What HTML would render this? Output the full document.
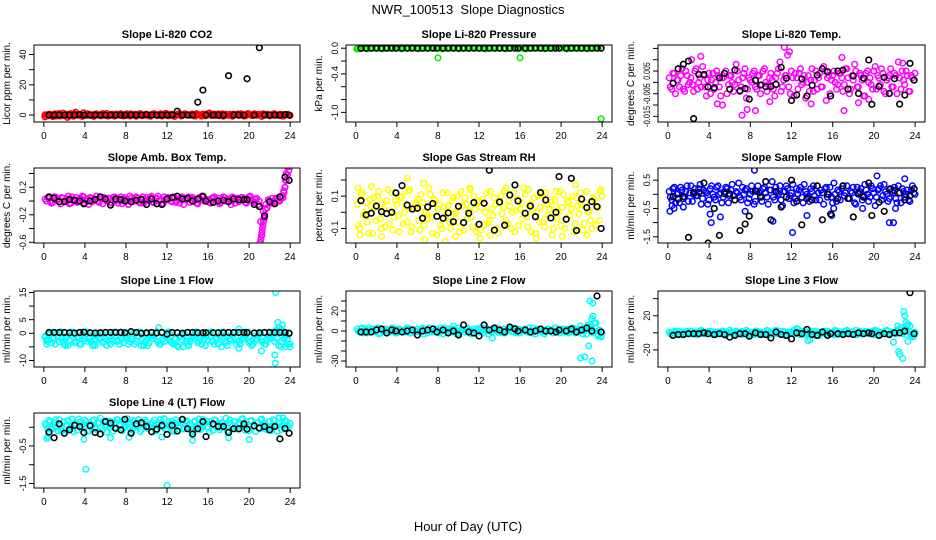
<!DOCTYPE html>
<html><head><meta charset="utf-8"><style>
html,body{margin:0;padding:0;background:#fff;}
svg{display:block;font-family:"Liberation Sans",Arial,sans-serif;}
</style></head><body>
<svg id="chart" width="936" height="540" viewBox="0 0 936 540">
<rect x="0" y="0" width="936" height="540" fill="#fff"/>
<text x="468" y="14" text-anchor="middle" font-size="13" xml:space="preserve">NWR_100513  Slope Diagnostics</text>
<text x="468" y="531" text-anchor="middle" font-size="13">Hour of Day (UTC)</text>
</svg>
<script>
const blackHours=[0.5,1,1.5,2,2.5,3,3.5,3.9,4.5,5,5.5,6,6.5,7,7.5,7.9,8.5,9,9.5,10,10.5,11,11.5,12,12.5,13,13.5,14,14.5,15,15.5,15.8,16.5,17,17.5,18,18.5,19,19.5,19.8,20.5,21,21.5,22,22.5,23,23.5,23.9];
const xTicks=[0,4,8,12,16,20,24];

const co2Vals=[0.2,-0.5,0.4,-1,0.8,0.1,-0.6,1.2,0.3,-0.2,0.9,-0.8,0.5,0,-0.4,1.5,-0.3,0.6,0.2,-0.9,0.7,0.1,-0.5,0.4,1,-0.2,0.3,-0.7,0.6,0,0.4,-0.3,0.8,-0.6,0.2,0.5,-0.1,0.9,-0.4,0.3,0.1,-0.8,0.6,0.2,-0.3,0.7,0,1.1,-0.5,0.4,0.2,-0.2,0.8,-0.6,0.3,0.5,-0.1,0.6,-0.4,0.9,0.2,-0.7,0.4,0.1,1.3,-0.3,0.6,0,-0.5,0.8,0.2,-0.2,0.5,-0.8,0.3,0.7,-0.1,0.4,-0.6,1,0.2,-0.3,0.6,0.1,-0.5,0.8,0,0.3,-0.4,0.7,0.2,-0.2,0.5,-0.6,0.3,0.1];
const co2Vals2=[-0.4,0.6,-0.1,0.3,-0.7,0.9,0.2,-0.3,0.5,-0.6,0.1,0.7,-0.2,0.4,-0.9,0.3,0.8,-0.1,-0.5,0.6,0.2,-0.4,0.9,0,-0.7,0.3,0.5,-0.2,0.1,0.8,-0.6,0.4,-0.3,0.7,0.1,-0.8,0.5,0.2,-0.1,0.6,-0.5,0.3,0.9,-0.2,0.4,-0.6,0.1,0.7,-0.3,0.5,-0.9,0.2,0.6,-0.4,0.8,0,-0.2,0.5,-0.7,0.3,0.1,0.6,-0.5,0.9,-0.1,0.4,-0.3,0.7,0.2,-0.8,0.5,0,-0.4,0.6,0.3,-0.2,0.8,-0.6,0.1,0.4,-0.3,0.7,-0.1,0.5,-0.9,0.2,0.6,-0.5,0.3,0.8,-0.2,0.4,-0.7,0.1,0.5,-0.3];
const co2ExtraH=[0.1,2.3,3.1];
const co2ExtraV=[-1.2,-1.5,1.8];
const co2Black=[0,0,0,0,0,0,0.3,0,0,0,0,0,0,0,0,0,0,0,0,0.2,0,0,0,0,0,2.5,0,0,0,8.5,16.5,0,0,0,0,26,0,0,0,24,0,44.5,0,0,0,0,0.3,0];

const presVals=[-0.01,-0.01,0,0,-0.01,0,0,0.01,0,0,-0.01,0,0,0,0.01,0,0,-0.01,0,0,0,0,0.01,0,-0.01,0,0,0,0,0.01,0,0,0,-0.01,0,0,0,0.01,0,0,-0.01,0,0,0,0,0.01,0,0,0,0,-0.01,0,0,0.01,0,0,0,0,-0.01,0,0,0.01,0,0,0,0,-0.01,0,0,0,0.01,0,0,-0.01,0,0,0,0,0.01,0,0,0,-0.01,0,0,0.01,0,0,0,0,-0.01,0,0,0,0,0];
const presVals2=[];
const presExtraH=[0.1,0.2,8,16,23.9];
const presExtraV=[-0.01,0,-0.15,-0.15,-1.1];
const presBlack=[0,0,0,0,0,0,0,0,0,0,0,0,0,0,0,0,0,0,0,0,0,0,0,0,0,0,0,0,0,0,0,0,0,0,0,0,0,0,0,0,0,0,0,0,0,0,0,0];

const tempVals=[0.002,-0.003,0.004,0.001,-0.002,0.006,-0.004,0.003,0.0,-0.001,0.005,-0.003,0.002,0.007,-0.002,0.001,-0.005,0.004,0.0,0.003,-0.006,0.002,0.005,-0.001,0.003,-0.004,0.008,0.001,-0.002,0.004,-0.007,0.002,0.0,0.005,-0.003,0.003,-0.001,0.006,-0.004,0.002,0.001,-0.006,0.004,0.009,-0.002,0.003,0.012,-0.005,0.002,0.004,-0.003,0.006,0.0,-0.007,0.003,0.001,-0.004,0.005,0.002,-0.002,0.007,-0.008,0.003,0.001,0.005,-0.003,0.004,0.002,-0.001,0.006,-0.005,0.003,0.008,-0.002,0.004,0.001,-0.006,0.005,0.002,-0.003,0.007,0.003,-0.001,0.004,-0.005,0.002,0.006,-0.002,0.003,0.009,-0.003,0.001,0.005,-0.004,0.003,0.001];
const tempVals2=[-0.002,0.004,-0.005,0.001,0.003,-0.003,0.005,-0.001,0.002,-0.004,0.006,0.0,-0.002,0.003,-0.006,0.004,0.001,-0.003,0.005,-0.002,0.002,0.004,-0.005,0.003,0.0,-0.001,0.005,-0.004,0.002,0.006,-0.003,0.001,0.004,-0.002,0.003,-0.005,0.005,0.0,-0.001,0.004,-0.003,0.002,0.006,-0.004,0.001,0.003,-0.002,0.005,-0.006,0.002,0.004,-0.001,0.003,0.0,-0.004,0.006,0.001,-0.003,0.004,-0.002,0.005,0.002,-0.005,0.003,0.0,-0.001,0.004,-0.004,0.006,0.002,-0.003,0.001,0.005,-0.002,0.003,-0.006,0.004,0.0,-0.001,0.005,-0.003,0.002,0.006,-0.004,0.001,0.003,-0.002,0.004,-0.005,0.002,0.005,-0.001,0.003,-0.004,0.002,0.004];
const tempExtraH=[2.3,3.2,4.8,5.3,7.2,7.7,8.5,11.3,11.8,13.9,17.1,18.5,19.5,22.8,9.9,16.9];
const tempExtraV=[0.01,0.0115,-0.0095,-0.01,-0.0145,-0.012,-0.0125,0.0155,0.0135,-0.0095,-0.0125,-0.009,-0.0075,0.0085,-0.0085,0.011];
const tempBlack=[-0.0004,0.006,0.008,0.0094,-0.016,0.0035,0.0035,-0.002,-0.0024,0.002,0.004,-0.003,0.0054,-0.0037,-0.0027,-0.0074,0.0009,-0.0012,-0.0019,-0.0018,-0.0009,0.0066,0.0018,-0.008,-0.0056,0.0015,-0.006,-0.0013,0.0032,0.006,0.0047,-0.006,0.005,0.0054,-0.003,0.0028,-0.0049,0.0018,0.0099,-0.0097,-0.0018,0.0022,-0.0049,0.0016,-0.0096,-0.0056,0.0084,0.001];

const ambVals=[0.03,0.05,0.0,-0.02,0.06,0.02,-0.04,0.04,0.01,0.07,-0.03,0.02,0.05,-0.01,0.03,0.06,0.0,-0.05,0.04,0.02,0.07,-0.02,0.03,0.05,0.0,0.04,-0.03,0.06,0.01,0.03,-0.04,0.05,0.02,0.07,-0.01,0.03,0.04,-0.03,0.06,0.0,0.02,0.05,-0.02,0.04,0.07,0.01,-0.04,0.03,0.05,0.0,0.06,-0.02,0.03,0.04,-0.05,0.02,0.06,0.01,0.03,-0.03,0.05,0.07,0.0,0.02,-0.02,0.04,0.06,0.01,-0.04,0.03,0.05,0.0,0.02,0.06,-0.03,0.04,0.01,0.05,-0.02,0.03,0.07,0.0,0.02,-0.05,-0.3,-0.15,-0.05,0.02,-0.03,0.0,0.04,0.01,0.05,0.15,0.3,0.45];
const ambVals2=[0.0,0.04,-0.03,0.06,0.02,-0.01,0.05,0.0,0.03,-0.04,0.06,0.01,-0.02,0.04,0.07,-0.03,0.02,0.05,-0.01,0.03,0.0,0.06,-0.04,0.02,0.04,-0.02,0.05,0.01,-0.03,0.06,0.03,0.0,-0.05,0.04,0.02,0.06,-0.01,0.03,-0.03,0.05,0.01,0.07,-0.02,0.04,0.0,-0.04,0.06,0.02,0.03,-0.01,0.05,0.0,-0.03,0.06,0.02,0.04,-0.02,0.05,0.01,-0.04,0.03,0.06,0.0,0.02,-0.03,0.05,0.01,0.04,-0.02,0.06,0.0,0.03,-0.05,0.04,0.02,-0.01,0.05,0.03,-0.03,0.06,0.01,-0.02,0.04,0.0,-0.5,-0.25,-0.1,0.0,0.04,-0.02,0.03,0.0,0.08,0.2,0.38,0.5];
const ambExtraH=[21.1,21.15,21.2,21.25,21.3,21.35,21.4,21.45,21.5,21.6,23.3,23.4,23.5,23.55,23.6,23.7];
const ambExtraV=[-0.6,-0.55,-0.5,-0.45,-0.4,-0.35,-0.3,-0.25,-0.2,-0.12,0.05,0.12,0.2,0.3,0.4,0.5];
const ambBlack=[0.06,0.04,-0.01,-0.01,0.02,0.01,0.0,-0.04,0.0,0.02,0.06,0.03,-0.06,0.03,0.02,0.0,-0.01,0.01,0.02,-0.05,0.03,-0.04,-0.05,0.03,0.05,0.07,0.03,0.04,0.0,0.03,0.07,0.0,-0.02,0.0,0.01,-0.01,0.03,0.02,0.02,0.02,-0.05,-0.08,-0.22,-0.01,-0.04,0.06,0.35,0.3];

const rhVals=[0.05,-0.1,0.12,0.0,-0.06,0.08,-0.13,0.03,0.1,-0.04,0.06,-0.09,0.14,0.01,-0.11,0.07,-0.02,0.09,-0.07,0.04,0.13,-0.12,0.02,0.06,-0.05,0.11,-0.08,0.0,0.15,-0.03,0.08,-0.14,0.05,-0.1,0.03,0.12,-0.06,0.07,-0.01,0.1,-0.12,0.04,0.09,-0.04,0.14,-0.09,0.02,0.06,-0.11,0.08,0.0,-0.07,0.13,-0.02,0.05,-0.13,0.1,0.03,-0.05,0.07,-0.1,0.12,0.01,-0.08,0.06,0.15,-0.03,0.04,-0.12,0.09,0.0,-0.06,0.11,-0.09,0.05,0.02,-0.14,0.08,-0.04,0.13,0.03,-0.1,0.07,-0.02,0.1,-0.07,0.04,0.12,-0.11,0.06,0.01,-0.05,0.09,-0.08,0.03,0.14];
const rhVals2=[-0.08,0.11,-0.02,0.06,-0.13,0.04,0.09,-0.05,0.13,-0.1,0.02,0.07,-0.07,0.12,-0.03,0.05,-0.12,0.1,0.0,-0.06,0.14,-0.09,0.03,0.08,-0.11,0.06,0.01,-0.04,0.11,-0.13,0.07,0.02,-0.08,0.12,-0.02,0.04,-0.1,0.09,0.0,-0.06,0.13,-0.11,0.05,0.01,-0.03,0.1,-0.12,0.07,0.03,-0.08,0.12,-0.05,0.02,0.09,-0.1,0.06,-0.01,0.13,-0.07,0.04,0.0,-0.12,0.08,0.02,-0.04,0.11,-0.09,0.05,0.01,-0.13,0.1,0.03,-0.06,0.12,-0.02,0.07,-0.1,0.04,0.0,-0.08,0.11,-0.04,0.06,0.02,-0.12,0.09,-0.01,0.05,-0.07,0.13,0.0,-0.1,0.08,0.03,-0.05,0.1];
const rhExtraH=[0.2,0.4,1.5,2.5,5,6.6,6.7,8.7,11.1,12.1,13.1,14.6,16.8,17.6,19.5,20.1,21.4,22.5,23.8,9.7];
const rhExtraV=[0.15,-0.14,0.16,-0.15,0.21,0.18,-0.17,-0.18,0.15,-0.16,-0.14,0.15,0.14,-0.16,0.13,-0.15,0.17,-0.14,0.13,-0.15];
const rhBlack=[0.072,-0.016,-0.006,0.039,0.004,-0.008,0.0,0.12,0.165,0.045,0.02,0.025,-0.037,0.033,0.054,-0.025,-0.037,-0.004,-0.058,0.037,-0.064,-0.006,0.06,-0.074,0.056,0.26,-0.11,0.064,-0.08,0.107,0.169,0.07,-0.006,0.039,-0.027,0.122,0.076,-0.035,0.0,0.221,-0.043,0.21,-0.113,0.082,0.029,0.066,0.035,-0.1];

const flowVals=[0.1,-0.2,0.25,0.0,-0.3,0.15,-0.1,0.3,0.05,-0.25,0.2,-0.05,0.35,-0.15,0.1,-0.35,0.2,0.0,-0.2,0.3,0.05,-0.1,0.25,-0.3,0.15,-0.05,0.1,0.4,-0.2,0.0,0.2,-0.15,0.3,-0.35,0.1,0.05,-0.25,0.25,-0.1,0.15,0.45,-0.2,0.05,0.3,-0.4,0.1,0.2,-0.05,0.35,-0.15,0.0,0.25,-0.3,0.1,-0.1,0.2,0.3,-0.2,0.05,0.15,-0.35,0.25,0.0,-0.1,0.4,-0.25,0.1,0.2,-0.05,0.3,-0.15,0.05,-0.3,0.25,0.1,-0.2,0.35,0.0,-0.1,0.2,-0.4,0.15,0.3,-0.05,0.1,-0.25,0.2,0.05,-0.15,0.3,-0.3,0.1,0.0,-0.2,0.15,0.05];
const flowVals2=[-0.1,0.2,-0.3,0.05,0.25,-0.15,0.1,-0.25,0.3,0.0,-0.05,0.2,-0.35,0.15,0.05,-0.2,0.3,-0.1,0.25,0.0,-0.3,0.1,0.2,-0.05,0.35,-0.2,0.05,-0.1,0.25,0.15,-0.3,0.0,0.1,-0.25,0.3,-0.05,0.2,0.05,-0.35,0.15,-0.1,0.25,0.0,-0.2,0.1,0.3,-0.15,0.05,-0.3,0.2,0.15,-0.1,0.35,0.0,-0.25,0.1,-0.05,0.3,-0.2,0.05,0.2,-0.1,0.25,-0.3,0.0,0.15,-0.2,0.3,0.05,-0.15,0.1,0.25,-0.35,0.0,0.2,-0.05,0.15,-0.25,0.3,0.05,-0.1,0.2,-0.2,0.35,0.0,-0.15,0.1,0.25,-0.3,0.05,0.2,-0.1,0.15,-0.25,0.3,0.0];
const flowExtraH=[0.2,0.4,0.6,4.1,4.2,5.1,8.4,10.2,12.1,13.5,15.9,16.1,20.3,21.5,21.9,22.1,23,1.5,7.5,18.9];
const flowExtraV=[-0.6,-0.4,-0.5,-0.7,-1.0,-0.8,0.85,-0.95,-1.35,-0.75,-0.75,-0.5,0.65,-1.0,-1.0,-0.5,0.55,-0.45,-0.6,-0.5];
const flowBlack=[-0.08,-0.17,-0.08,-1.52,0.06,0.07,0.4,-1.72,-0.5,-1.45,0.02,0.02,-0.2,-1.28,-1.05,-0.77,0.12,-0.1,0.45,-0.9,0.1,-0.45,-0.1,0.5,-0.25,-1.08,-0.15,-0.2,0.3,-0.9,0.0,-0.7,-0.15,0.3,-0.15,-0.8,0.05,-0.1,0.4,-0.75,-0.28,-0.6,0.18,0.13,0.05,-0.2,-0.05,0.2];

const l1Vals=[-1,-3,0,-2,-4,-1,0.5,-3,-2,-4.5,-1,0,-3,-2,-4,-1,0.5,-2,-3,-4,-1,-2,0,-3,-4.5,-1,-2,0.5,-3,-4,-2,-1,0,-3,-2,-4,-1,0.5,-2,-3,-4.5,-1,-2,0,-3,-4,-2,-1,0.5,-3,-4,-2,-5,-1,0,-3,-4.5,-2,-1,0.5,-3,-4,-2,-1,0,-3,-4,-2,-1,0.5,-3,-4.5,-2,-1,0,-3,-4,-2,-1,0.5,-3,-4,-2,-1,0,-3,-4,-1,-2,0.5,1,2,-3,-2,-1,0];
const l1Vals2=[-2.5,-0.5,-3.5,-1.5,0,-3,-2,-4,-1,-2.5,0.5,-3.5,-1.5,-4,-0.5,-2,-3,-1,-4.5,-2.5,0,-1.5,-3.5,-2,-0.5,-4,-3,-1,-2.5,0.5,-3.5,-1.5,-4,-2,0,-3,-1,-2.5,-4.5,-0.5,-3.5,-2,-1,0.5,-4,-2.5,-3,-1.5,0,-3.5,-2,-4.5,-1,-2.5,-0.5,-4,-3,-1.5,0,-3.5,-2,-1,-4.5,-2.5,0.5,-3,-1.5,-4,-0.5,-2,-3.5,-1,-2.5,0,-4,-3,-1.5,-2,0.5,-3.5,-4.5,-1,-2.5,-0.5,-3,-4,-2,-1.5,0,-3,-2,1,3,-1,-2,-4];
const l1ExtraH=[0.1,11.2,19,19,21.2,22.6,22.5,22.55,22.8,23,23.2,23.5,23.8,24,22.9,23.1,0.3,2.1,5,9.5,13.6,17.3];
const l1ExtraV=[-1.5,2,1.5,-5.5,-6.5,15,-8,-11,4,2,1,-5,-4,-5,-4.5,-5,-4,-4.5,-4.5,-4.5,-5,-5];
const l1Black=[0.3,0.3,0.3,0.3,0.2,0.1,0.3,0.4,0.2,0.1,0.2,0.3,0.3,0.3,0.3,0.2,0.6,0.3,0,0.2,0.3,0.1,0.3,-0.3,0.3,0.2,0,0.3,0.3,0.2,0.2,0.2,0.2,0.2,0.2,0.3,0.3,0.3,0.3,0.2,0.1,0.2,0.3,0.3,0.3,0.3,0.3,0];

const l2Vals=[2,-1,3,0,-2,1,2,-1,3,-2,0,2,1,-1,3,-2,0,1,-1,2,3,-2,1,0,-1,2,-3,1,3,-1,0,2,-2,1,3,0,-1,2,1,-3,0,2,-1,3,1,-2,0,2,-1,1,3,-3,0,2,1,-1,-2,2,0,1,3,-1,-2,2,0,1,-1,3,-2,0,2,1,-1,-3,2,0,1,3,-1,-2,2,1,0,-1,3,-2,1,5,-3,2,6,4,-2,3,-4,-5];
const l2Vals2=[0,2,-2,1,3,-1,0,2,-3,1,2,0,-1,3,1,-2,2,0,-1,3,-2,1,0,2,-1,3,1,-2,0,2,-1,1,3,-3,0,2,1,-1,-2,3,0,1,2,-1,-3,2,0,1,3,-2,1,0,-1,2,3,-1,0,-2,1,2,-1,3,0,-2,1,2,-1,0,3,-3,1,2,0,-1,2,1,-2,3,0,1,-1,2,-2,0,3,1,-1,2,0,-3,4,2,8,-3,1,-2];
const l2ExtraH=[22.8,23.1,23.0,23.1,23.3,23.4,22.7,21.9,22.3,23.0,23.6,23.9,13.3,9.5,12.5,22.6,22.9];
const l2ExtraV=[30,28,12,15,8,8,-15,-27,-26,-30,-5,-6,-7,5,6,4,5];
const l2Black=[-1,-1,-1,1,2,-2,1,0,-1,0,1,-4,0,1,2,-1,1,-2,0,-4,6,-1,-2,-5,6,1,3,1,-1,4,2,0,1,-1,0,2,0,0,-1,1,0,2,-1,1,3,0,35,-1];

const l3Vals=[1,-1,2,0,-2,1,-1,2,0,-1,1,-2,2,0,-1,1,2,-2,0,1,-1,2,-3,0,1,-1,2,0,-2,1,3,-1,0,-2,2,1,-1,0,3,-2,1,0,-1,2,1,-3,0,1,-1,2,4,-2,0,1,-1,2,-1,-3,1,0,2,-1,1,0,-2,2,1,-1,0,3,-1,1,0,-2,2,-1,1,0,-1,2,3,-2,0,1,-1,2,0,1,-1,4,6,3,-2,1,-3,-4];
const l3Vals2=[-1,1,0,2,-2,0,1,-1,2,0,-2,1,3,-1,0,2,-1,1,-2,0,2,1,-1,3,0,-2,1,0,2,-1,1,-3,0,2,-1,1,0,-2,2,1,-1,3,0,-1,2,-2,1,0,3,-1,0,2,-2,1,0,-1,2,1,-3,0,1,2,-1,0,3,-2,1,-1,2,0,1,-2,3,0,-1,1,2,-1,0,-2,2,1,0,-1,3,-2,1,0,2,3,-1,5,2,8,-2,1];
const l3ExtraH=[22.9,23.0,23.1,23.3,22.4,22.5,22.8,22.3,23.3,21.9,23.8,13.6,13.8,12.5,23.2];
const l3ExtraV=[25,20,12,10,-22,-25,-30,8,-10,-11,-5,-9,-8,5,8];
const l3Black=[-3,-2,-2,-1,-1,-1,0,-1,-2,-1,-2,-5,-3,-1,-1,-4,0,-2,-2,-6,1,-2,-3,-7,0,-1,4,-2,-3,1,-3,-1,-1,-2,-1,-2,0,-1,0,-1,-3,-1,-2,0,0,2,47,-1];

const l4Vals=[0.1,-0.05,0.15,0.0,0.2,-0.1,0.05,0.12,-0.08,0.18,0.02,-0.12,0.1,0.22,-0.04,0.08,0.15,-0.1,0.03,0.2,-0.06,0.12,0.0,0.17,-0.13,0.07,0.14,-0.02,0.2,0.05,-0.09,0.11,0.23,0.0,-0.07,0.16,0.04,-0.12,0.1,0.19,-0.03,0.08,0.13,-0.1,0.06,0.21,0.0,-0.06,0.15,0.09,-0.11,0.2,0.03,0.12,-0.05,0.18,0.07,-0.09,0.14,0.01,0.22,-0.04,0.1,0.16,-0.12,0.05,0.19,0.0,-0.07,0.13,0.08,-0.1,0.2,0.02,0.15,-0.05,0.11,0.23,-0.08,0.06,0.17,0.0,-0.11,0.12,0.19,-0.03,0.08,0.14,-0.09,0.2,0.04,0.25,-0.06,0.1,0.16,0.02];
const l4Vals2=[0.05,0.18,-0.06,0.12,0.0,0.2,-0.1,0.15,0.06,-0.03,0.22,0.09,-0.08,0.14,0.02,0.19,-0.11,0.07,0.16,-0.02,0.11,0.24,-0.07,0.04,0.17,0.0,-0.1,0.13,0.2,0.06,-0.04,0.15,0.09,-0.12,0.18,0.03,0.21,-0.06,0.1,0.14,-0.01,0.08,0.19,-0.09,0.12,0.04,0.23,-0.05,0.07,0.16,-0.1,0.11,0.02,0.2,-0.03,0.13,0.08,-0.12,0.17,0.05,-0.06,0.21,0.1,0.0,0.15,-0.08,0.19,0.06,-0.02,0.12,0.24,-0.1,0.09,0.16,0.01,-0.05,0.2,0.07,0.13,-0.09,0.18,0.03,0.11,-0.04,0.22,0.08,-0.07,0.15,0.0,0.19,-0.11,0.12,0.06,0.17,-0.03,0.1];
const l4ExtraH=[4.1,12,0.3,0.4,3.9,6.5,14.5,20,23.3,18,11.5,8.3];
const l4ExtraV=[-1.12,-1.55,-0.3,-0.25,-0.32,-0.28,-0.35,-0.33,0.25,-0.28,-0.26,-0.27];
const l4Black=[-0.13,-0.28,0.09,-0.16,-0.07,0.05,0.02,-0.14,0.04,-0.14,-0.18,0.15,0.11,-0.03,-0.07,0.21,-0.16,0.09,0.12,0.02,-0.12,-0.05,0.05,-0.19,0.05,-0.1,0.21,-0.04,-0.18,-0.04,0.15,-0.25,0.09,0.02,0.02,-0.14,-0.04,-0.04,0.09,-0.05,0.04,-0.02,0.02,-0.07,0.02,-0.31,-0.03,-0.16];

const panels=[
 {name:'co2',title:'Slope Li-820 CO2',ylab:'Licor ppm per min.',col:'#ff0000',box:[34,45,300,122],ylim:[-4.6,46.3],ticks:[0,10,20,30,40],labels:['0','','20','','40'],vals:co2Vals,vals2:co2Vals2,eh:co2ExtraH,ev:co2ExtraV,blk:co2Black},
 {name:'pressure',title:'Slope Li-820 Pressure',ylab:'kPa per min.',col:'#00ee00',box:[346,45,612,122],ylim:[-1.15,0.05],ticks:[0,-0.2,-0.4,-0.6,-0.8,-1.0],labels:['0.0','','-0.4','','','-1.0'],vals:presVals,vals2:presVals2,eh:presExtraH,ev:presExtraV,blk:presBlack},
 {name:'temp',title:'Slope Li-820 Temp.',ylab:'degrees C per min.',col:'#ff00ff',box:[658,45,925,122],ylim:[-0.0175,0.0165],ticks:[0.015,0.01,0.005,0,-0.005,-0.01,-0.015],labels:['','','0.005','','-0.005','','-0.015'],vals:tempVals,vals2:tempVals2,eh:tempExtraH,ev:tempExtraV,blk:tempBlack},
 {name:'amb-box-temp',title:'Slope Amb. Box Temp.',ylab:'degrees C per min.',col:'#ff00ff',box:[34,168,300,243],ylim:[-0.61,0.48],ticks:[0.4,0.2,0,-0.2,-0.4,-0.6],labels:['','0.2','','-0.2','','-0.6'],vals:ambVals,vals2:ambVals2,eh:ambExtraH,ev:ambExtraV,blk:ambBlack},
 {name:'gas-rh',title:'Slope Gas Stream RH',ylab:'percent per min.',col:'#ffff00',box:[346,168,612,243],ylim:[-0.19,0.274],ticks:[0.2,0.1,0,-0.1],labels:['','0.1','','-0.1'],vals:rhVals,vals2:rhVals2,eh:rhExtraH,ev:rhExtraV,blk:rhBlack},
 {name:'sample-flow',title:'Slope Sample Flow',ylab:'ml/min per min.',col:'#0000ff',box:[658,168,925,243],ylim:[-1.72,0.93],ticks:[0.5,0,-0.5,-1,-1.5],labels:['0.5','','-0.5','','-1.5'],vals:flowVals,vals2:flowVals2,eh:flowExtraH,ev:flowExtraV,blk:flowBlack},
 {name:'line1-flow',title:'Slope Line 1 Flow',ylab:'ml/min per min.',col:'#00ffff',box:[34,291,300,367],ylim:[-12.4,15.55],ticks:[15,10,5,0,-5,-10],labels:['15','','5','0','','-10'],vals:l1Vals,vals2:l1Vals2,eh:l1ExtraH,ev:l1ExtraV,blk:l1Black},
 {name:'line2-flow',title:'Slope Line 2 Flow',ylab:'ml/min per min.',col:'#00ffff',box:[346,291,612,367],ylim:[-36,40],ticks:[30,20,10,0,-10,-20,-30],labels:['','20','','0','','','-30'],vals:l2Vals,vals2:l2Vals2,eh:l2ExtraH,ev:l2ExtraV,blk:l2Black},
 {name:'line3-flow',title:'Slope Line 3 Flow',ylab:'ml/min per min.',col:'#00ffff',box:[658,291,925,367],ylim:[-40,49],ticks:[40,20,0,-20],labels:['','20','','-20'],vals:l3Vals,vals2:l3Vals2,eh:l3ExtraH,ev:l3ExtraV,blk:l3Black},
 {name:'line4-flow',title:'Slope Line 4 (LT) Flow',ylab:'ml/min per min.',col:'#00ffff',box:[34,413,300,488],ylim:[-1.62,0.38],ticks:[0,-0.5,-1,-1.5],labels:['','-0.5','','-1.5'],vals:l4Vals,vals2:l4Vals2,eh:l4ExtraH,ev:l4ExtraV,blk:l4Black}
];

const NS='http://www.w3.org/2000/svg';
const svg=document.getElementById('chart');
function mk(tag,attrs,parent){const e=document.createElementNS(NS,tag);for(const k in attrs)e.setAttribute(k,attrs[k]);(parent||svg).appendChild(e);return e;}

panels.forEach(p=>{
 const [x0,y0,x1,y1]=p.box;
 const g=mk('g',{});
 
 
 const xs=h=>x0+(h+0.96)/25.92*(x1-x0);
 const ys=v=>y1-(v-p.ylim[0])/(p.ylim[1]-p.ylim[0])*(y1-y0);
 const clip='clip-'+p.name;
 const cp=mk('clipPath',{id:clip},g);
 mk('rect',{x:x0,y:y0,width:x1-x0,height:y1-y0},cp);
 const pts=mk('g',{'clip-path':'url(#'+clip+')'},g);
 
 
 const n=p.vals.length;
 p.vals.forEach((v,i)=>{
  const c=mk('circle',{cx:xs((i+0.5)*24/n),cy:ys(v),r:2.8,fill:'none',stroke:p.col,'stroke-width':1.5},pts);
  
  
 });
 const n2=p.vals2.length;
 p.vals2.forEach((v,i)=>{
  const c=mk('circle',{cx:xs((i+0.95)*24/n2),cy:ys(v),r:2.8,fill:'none',stroke:p.col,'stroke-width':1.5},pts);
  
  
 });
 p.eh.forEach((h,i)=>{
  const c=mk('circle',{cx:xs(h),cy:ys(p.ev[i]),r:2.8,fill:'none',stroke:p.col,'stroke-width':1.5},pts);
  
  
 });
 p.blk.forEach((v,i)=>{
  const c=mk('circle',{cx:xs(blackHours[i]),cy:ys(v),r:2.8,fill:'none',stroke:'#000','stroke-width':1.6},pts);
  
  
 });
 const box=mk('rect',{x:x0,y:y0,width:x1-x0,height:y1-y0,fill:'none',stroke:'#000','stroke-width':1},g);
 
 
 const t=mk('text',{x:(x0+x1)/2,y:y0-7,'text-anchor':'middle','font-size':11,'font-weight':'bold'},g);
 t.textContent=p.title;
 
 
 const xa=mk('g',{},g);
 
 
 mk('line',{x1:xs(0),x2:xs(24),y1:y1,y2:y1,stroke:'#000'},xa);
 xTicks.forEach(h=>{
  mk('line',{x1:xs(h),x2:xs(h),y1:y1,y2:y1+5,stroke:'#000'},xa);
  const tl=mk('text',{x:xs(h),y:y1+17,'text-anchor':'middle','font-size':10},xa);
  tl.textContent=String(h);
  
  
 });
 const ya=mk('g',{},g);
 
 
 mk('line',{x1:x0,x2:x0,y1:ys(p.ticks[0]),y2:ys(p.ticks[p.ticks.length-1]),stroke:'#000'},ya);
 p.ticks.forEach((v,i)=>{
  const yy=ys(v);
  mk('line',{x1:x0-5,x2:x0,y1:yy,y2:yy,stroke:'#000'},ya);
  const lab=p.labels[i];
  if(lab){
   const attrs={x:x0-8,y:yy,'text-anchor':'middle','font-size':9,transform:'rotate(-90 '+(x0-8)+' '+yy+')'};
   if(lab.length>=5){attrs.textLength=lab.length*3.5;attrs.lengthAdjust='spacingAndGlyphs';}
   const tl=mk('text',attrs,ya);
   tl.textContent=lab;
   
   
  }
 });
 const yl=mk('text',{x:x0-24,y:(y0+y1)/2,'text-anchor':'middle','font-size':10,transform:'rotate(-90 '+(x0-24)+' '+((y0+y1)/2)+')'},g);
 yl.textContent=p.ylab;
 
 
});
</script>
</body></html>
